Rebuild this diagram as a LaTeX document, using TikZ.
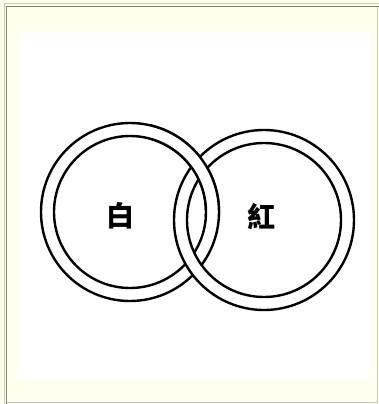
\documentclass[tikz,border=0pt]{standalone}
\usepackage{fontspec}
\newfontfamily\cjk{Noto Sans CJK TC}
\definecolor{cream}{RGB}{255,255,238}
\definecolor{framedark}{RGB}{128,128,118}
\definecolor{framelight}{RGB}{200,200,188}
\begin{document}
\begin{tikzpicture}[x=1pt,y=-1pt,
  ring/.style={draw=black,line width=2.4pt,fill=white,even odd rule},
  glyph/.style={font=\cjk\bfseries\fontsize{28}{28}\selectfont,inner sep=0pt}]
\useasboundingbox (0,0) rectangle (379,404);
\fill[cream] (0,0) rectangle (379,404);
\draw[framelight,line width=1pt] (4,404) -- (4,4) -- (379,4);
\draw[framedark,line width=1.5pt] (6.5,404) -- (6.5,6.5) -- (379,6.5);
\draw[framelight,line width=1pt] (377,7) -- (377,402.5) -- (7,402.5);
\fill[white] (17,33) rectangle (370,379);
% left ring
\path[ring] (130,212) circle[radius=89] (130,212) circle[radius=76];
% right ring (on top at lower crossing)
\path[ring] (264,220) circle[radius=90] (264,220) circle[radius=77];
% left ring again on top at upper crossing
\begin{scope}
  \clip (150,100) rectangle (250,216);
  \path[ring] (130,212) circle[radius=89] (130,212) circle[radius=76];
\end{scope}
\node[glyph] (bai) at (120,216) {白};
\node[glyph] (hong) at (261,217) {紅};
\end{tikzpicture}
\end{document}
